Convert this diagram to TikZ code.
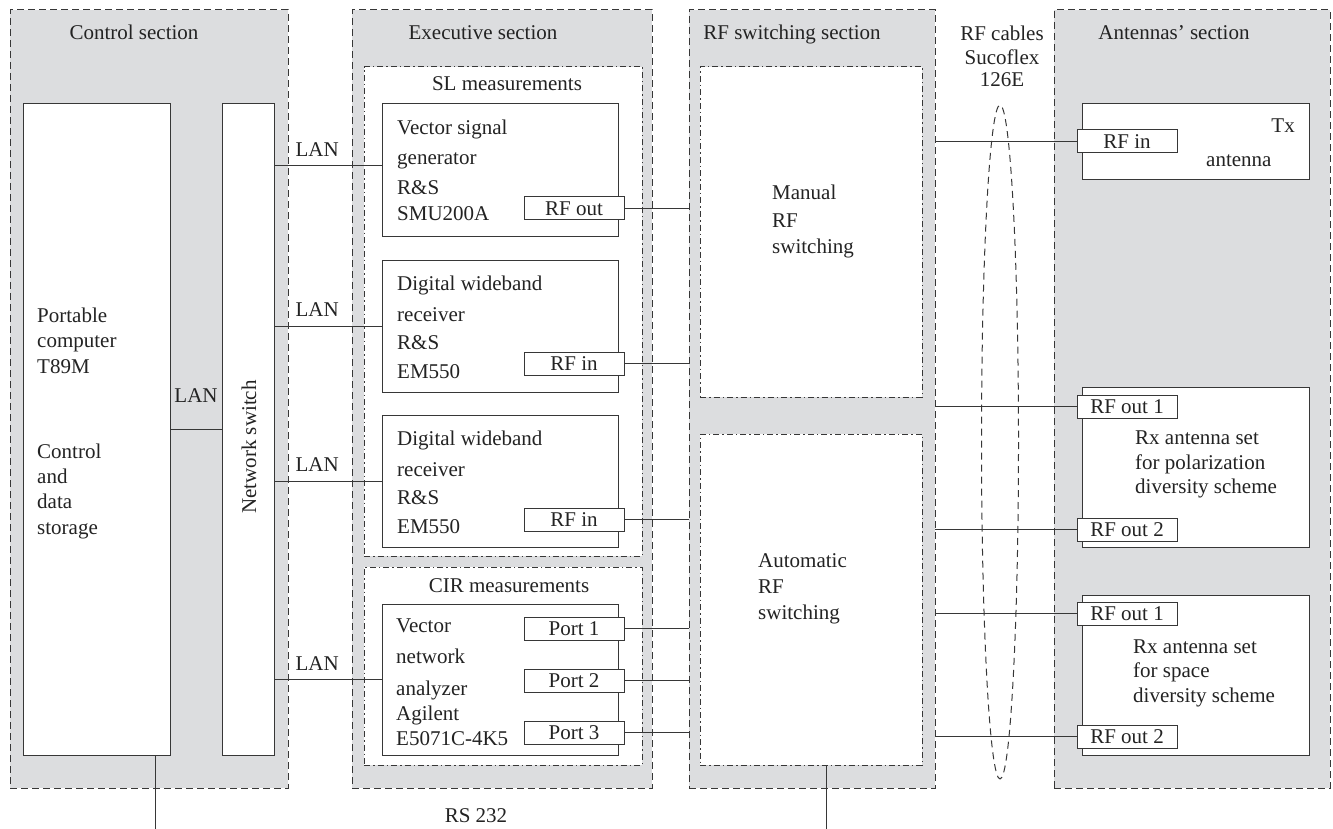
\documentclass[tikz,border=0pt]{standalone}
\usepackage{fontspec}
\setmainfont{Liberation Serif}
\definecolor{secgray}{RGB}{220,221,223}
\definecolor{ln}{RGB}{55,55,55}
\definecolor{tx}{RGB}{35,35,35}
\tikzset{
 fnt/.style={font=\fontsize{21}{25}\selectfont, text=tx},
 sec/.style={draw=ln, fill=secgray, line width=1pt, dash pattern=on 7pt off 4pt, anchor=north west, inner sep=0pt, outer sep=0pt},
 grp/.style={draw=ln, fill=white, line width=1pt, dash pattern=on 6pt off 3pt on 1.5pt off 3pt, anchor=north west, inner sep=0pt, outer sep=0pt},
 unit/.style={draw=ln, fill=white, line width=1pt, anchor=north west, inner sep=0pt, outer sep=0pt},
 port/.style={draw=ln, fill=white, line width=1pt, anchor=north west, inner sep=0pt, outer sep=0pt, minimum width=100pt, minimum height=23pt, fnt},
 lbl/.style={fnt, anchor=base west, inner sep=0pt},
 ctr/.style={fnt, anchor=base, inner sep=0pt},
 wire/.style={draw=ln, line width=1pt},
 lan/.style={fnt, inner sep=0pt},
}
\begin{document}
\begin{tikzpicture}[x=1pt,y=-1pt]
\useasboundingbox (0,0) rectangle (1333,829);
% sections
\node[sec, minimum width=278pt, minimum height=778pt] (ctrl) at (10,10) {};
\node[sec, minimum width=300pt, minimum height=778pt] (exe) at (352,10) {};
\node[sec, minimum width=246pt, minimum height=778pt] (rfs) at (689,10) {};
\node[sec, minimum width=276pt, minimum height=778pt] (ant) at (1054,10) {};
% section titles
\node[ctr] (tctrl) at (134,40) {Control section};
\node[ctr] (texe) at (483,40) {Executive section};
\node[ctr] (trfs) at (792,40) {RF switching section};
\node[ctr] (tant) at (1174,40) {Antennas’ section};
\node[ctr] (tc1) at (1002,41) {RF cables};
\node[ctr] (tc2) at (1002,65) {Sucoflex};
\node[ctr] (tc3) at (1002,87) {126E};
% control section
\node[unit, minimum width=147pt, minimum height=651pt] (pc) at (23,104) {};
\node[unit, minimum width=52pt, minimum height=651pt] (nsw) at (222,104) {};
\node[lbl] (pc1) at (37,322) {Portable};
\node[lbl] (pc2) at (37,347) {computer};
\node[lbl] (pc3) at (37,373) {T89M};
\node[lbl] (pc4) at (37,458) {Control};
\node[lbl] (pc5) at (37,483) {and};
\node[lbl] (pc6) at (37,508) {data};
\node[lbl] (pc7) at (37,534) {storage};
\node[fnt, rotate=90, inner sep=0pt] (nswl) at (249,447) {Network switch};
% executive section
\node[grp, minimum width=278pt, minimum height=489pt] (sl) at (364,67) {};
\node[grp, minimum width=278pt, minimum height=198pt] (cir) at (364,567) {};
\node[ctr] (tsl) at (507,91) {SL measurements};
\node[ctr] (tcir) at (509,592) {CIR measurements};
\node[unit, minimum width=236pt, minimum height=132pt] (vsg) at (382,104) {};
\node[unit, minimum width=236pt, minimum height=132pt] (rx1) at (382,260) {};
\node[unit, minimum width=236pt, minimum height=132pt] (rx2) at (382,415) {};
\node[unit, minimum width=236pt, minimum height=151pt] (vna) at (382,604) {};
\node[lbl] (v1) at (397,135) {Vector signal};
\node[lbl] (v2) at (397,165) {generator};
\node[lbl] (v3) at (397,195) {R\&S};
\node[lbl] (v4) at (397,221) {SMU200A};
\node[lbl] (ra1) at (397,290) {Digital wideband};
\node[lbl] (ra2) at (397,321) {receiver};
\node[lbl] (ra3) at (397,349) {R\&S};
\node[lbl] (ra4) at (397,378) {EM550};
\node[lbl] (rb1) at (397,445) {Digital wideband};
\node[lbl] (rb2) at (397,476) {receiver};
\node[lbl] (rb3) at (397,504) {R\&S};
\node[lbl] (rb4) at (397,533) {EM550};
\node[lbl] (n1) at (396,632) {Vector};
\node[lbl] (n2) at (396,663) {network};
\node[lbl] (n3) at (396,695) {analyzer};
\node[lbl] (n4) at (396,720) {Agilent};
\node[lbl] (n5) at (396,745) {E5071C-4K5};
\node[port] (rfout) at (524,197) {RF out};
\node[port] (rfin1) at (524,352) {RF in};
\node[port] (rfin2) at (524,508) {RF in};
\node[port] (p1) at (524,617) {Port 1};
\node[port] (p2) at (524,669) {Port 2};
\node[port] (p3) at (524,721) {Port 3};
% RF switching section
\node[grp, minimum width=222pt, minimum height=330pt] (man) at (700,67) {};
\node[grp, minimum width=222pt, minimum height=331pt] (auto) at (700,434) {};
\node[lbl] (m1) at (772,200) {Manual};
\node[lbl] (m2) at (772,227) {RF};
\node[lbl] (m3) at (772,253) {switching};
\node[lbl] (a1) at (758,567) {Automatic};
\node[lbl] (a2) at (758,593) {RF};
\node[lbl] (a3) at (758,619) {switching};
% antennas section
\node[unit, minimum width=227pt, minimum height=76pt] (txa) at (1082,104) {};
\node[unit, minimum width=227pt, minimum height=160pt] (pol) at (1082,387) {};
\node[unit, minimum width=227pt, minimum height=160pt] (spc) at (1082,595) {};
\node[fnt, anchor=base east, inner sep=0pt] (tx1) at (1295,133) {Tx};
\node[lbl] (tx2) at (1206,167) {antenna};
\node[lbl] (po1) at (1135,444) {Rx antenna set};
\node[lbl] (po2) at (1135,469) {for polarization};
\node[lbl] (po3) at (1135,493) {diversity scheme};
\node[lbl] (sp1) at (1133,653) {Rx antenna set};
\node[lbl] (sp2) at (1133,677) {for space};
\node[lbl] (sp3) at (1133,702) {diversity scheme};
\node[port] (txin) at (1077,130) {RF in};
\node[port] (pout1) at (1077,395) {RF out 1};
\node[port] (pout2) at (1077,518) {RF out 2};
\node[port] (sout1) at (1077,602) {RF out 1};
\node[port] (sout2) at (1077,725) {RF out 2};
% LAN wires
\draw[wire] (pc.east) -- (pc.east -| nsw.west) node[lan, midway, above=27pt] (lan0) {LAN};
\draw[wire] ([yshift=4pt]vsg.west) -- ([yshift=4pt]vsg.west -| nsw.east) node[lan, pos=0.6, above=9pt] (lan1) {LAN};
\draw[wire] (rx1.west) -- (rx1.west -| nsw.east) node[lan, pos=0.6, above=9pt] (lan2) {LAN};
\draw[wire] (rx2.west) -- (rx2.west -| nsw.east) node[lan, pos=0.6, above=9pt] (lan3) {LAN};
\draw[wire] (vna.west) -- (vna.west -| nsw.east) node[lan, pos=0.6, above=9pt] (lan4) {LAN};
% RF wires to switching section
\draw[wire] (rfout.east) -- (rfout.east -| rfs.west);
\draw[wire] (rfin1.east) -- (rfin1.east -| rfs.west);
\draw[wire] (rfin2.east) -- (rfin2.east -| rfs.west);
\draw[wire] (p1.east) -- (p1.east -| rfs.west);
\draw[wire] (p2.east) -- (p2.east -| rfs.west);
\draw[wire] (p3.east) -- (p3.east -| rfs.west);
% RF wires to antennas
\draw[wire] (txin.west) -- (txin.west -| rfs.east);
\draw[wire] (pout1.west) -- (pout1.west -| rfs.east);
\draw[wire] (pout2.west) -- (pout2.west -| rfs.east);
\draw[wire] (sout1.west) -- (sout1.west -| rfs.east);
\draw[wire] (sout2.west) -- (sout2.west -| rfs.east);
% cable bundle ellipse
\draw[draw=ln, line width=1pt, dash pattern=on 7pt off 5pt] (1000,442) ellipse [x radius=18.5, y radius=337];
% RS 232
\coordinate (b1) at (155,829);
\coordinate (b2) at (826,829);
\draw[wire] (b1 |- pc.south) -- (b1);
\draw[wire] (b2 |- auto.south) -- (b2);
\node[ctr] (rs) at (476,822) {RS 232};
\end{tikzpicture}
\end{document}
